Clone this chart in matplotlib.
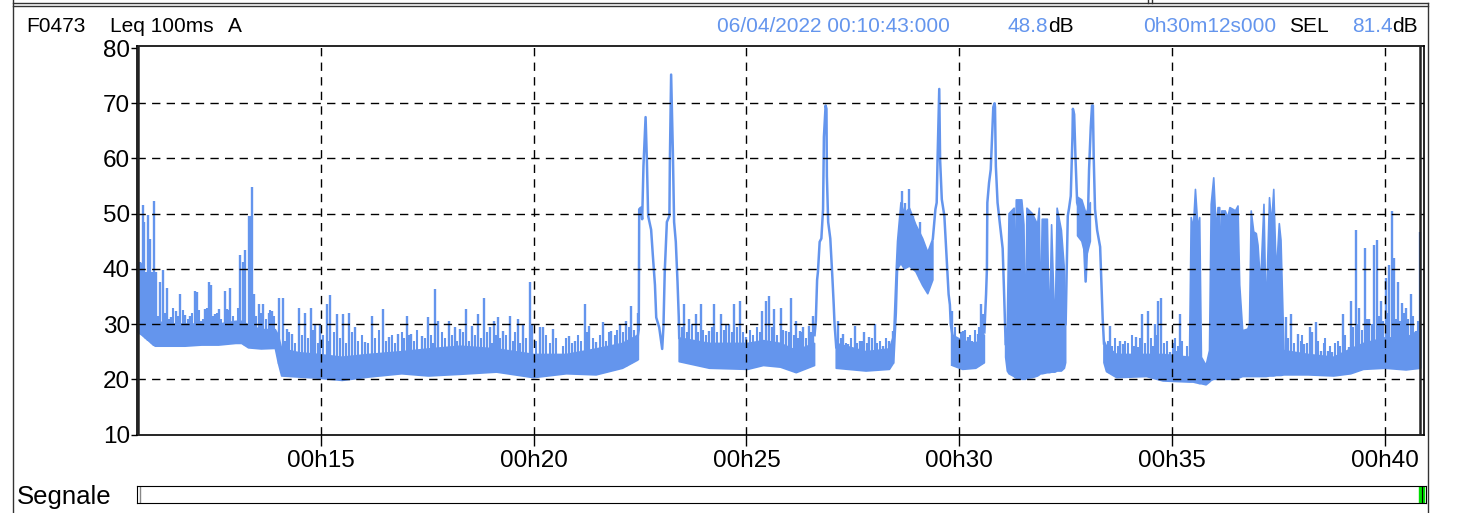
import numpy as np
import matplotlib
matplotlib.use("Agg")
import matplotlib.pyplot as plt
from matplotlib.lines import Line2D

plt.rcParams['font.family'] = ['Liberation Sans', 'DejaVu Sans']

# -----------------------------------------------------------------------------
# Data (time in minutes past 00h, level in dB(A))
# -----------------------------------------------------------------------------
nan = np.nan

# dense noise floor: lower / upper edge of the band, nan rows break the band
floor_t = [10.70, 10.80, 10.87, 10.95, 11.05, 11.11, 11.50, 11.81, 12.20, 12.60,
           13.00, 13.14, 13.30, 13.60, 13.93, 14.00, 14.08, 14.50, 14.95, 15.50,
           16.12, 16.90, 17.53, 18.27, 19.13, 20.00, 20.77, 21.47, 22.09, 22.45,
           22.90,
           23.42, 24.13, 25.03, 25.40, 25.80, 26.17, 26.60,
           26.90,
           27.11, 27.81, 28.36, 28.46, 28.52, 28.55, 28.63, 28.71, 28.83, 28.98,
           29.14, 29.26, 29.38,
           29.60,
           29.84, 30.08, 30.39, 30.59,
           30.80,
           31.09, 31.13, 31.17, 31.29, 31.31, 31.34, 31.47, 31.52, 31.56, 31.59,
           31.72, 31.84, 31.88, 31.91, 31.95, 32.07, 32.12, 32.17, 32.25, 32.30,
           32.40, 32.47, 32.50,
           32.60,
           32.78, 32.88, 32.98, 33.08,
           33.20,
           33.40, 33.46, 33.70, 34.40, 34.79, 35.41, 35.45, 35.50, 35.55, 35.61,
           35.65, 35.69, 35.80, 35.88, 35.92, 35.98, 36.04, 36.08, 36.12, 36.15,
           36.17, 36.25, 36.31, 36.36, 36.43, 36.49, 36.55, 36.59, 36.66, 36.78,
           36.82, 36.86, 36.92, 36.98, 37.02, 37.08, 37.16, 37.21, 37.29, 37.34,
           37.39, 37.45, 37.52, 37.56, 37.63, 38.20, 38.80, 39.20, 39.50, 40.00,
           40.50, 40.84]
floor_lo = [28.5, 28.0, 27.5, 27.0, 26.3, 26.0, 26.0, 26.0, 26.2, 26.2,
            26.5, 26.5, 25.7, 25.5, 25.6, 23.0, 20.6, 20.4, 20.2, 19.8,
            20.4, 21.0, 20.6, 20.9, 21.3, 20.3, 21.0, 20.8, 22.0, 23.5,
            nan,
            23.2, 22.0, 21.8, 22.5, 22.2, 21.2, 22.5,
            nan,
            22.0, 21.5, 21.8, 23.0, 32.0, 40.0, 41.0, 40.0, 40.5, 39.5,
            37.0, 35.5, 38.0,
            nan,
            22.5, 21.8, 22.0, 23.0,
            nan,
            24.0, 21.5, 21.0, 20.5, 20.3, 20.2, 20.0, 20.0, 20.0, 20.2,
            20.3, 20.6, 20.8, 21.0, 21.0, 21.2, 21.2, 21.3, 21.3, 21.5,
            21.5, 22.0, 23.0,
            nan,
            46.0, 45.0, 42.0, 45.0,
            nan,
            23.0, 21.4, 20.3, 20.5, 19.7, 19.5, 19.5, 19.5, 19.4, 19.3,
            19.2, 19.2, 19.0, 19.5, 19.8, 20.0, 20.0, 20.0, 20.0, 20.0,
            20.0, 20.0, 20.0, 20.0, 20.0, 20.0, 20.2, 20.3, 20.5, 20.5,
            20.5, 20.5, 20.5, 20.5, 20.5, 20.5, 20.5, 20.5, 20.6, 20.6,
            20.6, 20.7, 20.7, 20.7, 20.8, 20.8, 20.6, 21.0, 21.8, 22.0,
            21.7, 22.0]
floor_hi = [40.0, 41.0, 38.0, 34.0, 31.0, 30.5, 30.0, 30.0, 30.0, 30.0,
            30.5, 30.5, 29.8, 29.0, 29.0, 28.0, 25.5, 24.8, 24.5, 24.0,
            24.5, 25.0, 25.5, 26.0, 25.5, 24.5, 24.5, 25.5, 26.5, 28.0,
            nan,
            27.5, 26.5, 26.5, 27.0, 26.5, 25.2, 26.5,
            nan,
            26.5, 25.0, 25.5, 28.0, 40.0, 45.0, 52.0, 50.0, 51.0, 48.0,
            45.5, 43.0, 45.5,
            nan,
            28.0, 27.0, 26.5, 28.0,
            nan,
            27.0, 30.0, 50.0, 51.0, 30.0, 52.5, 52.5, 48.0, 26.0, 51.0,
            50.0, 48.0, 51.0, 30.0, 49.0, 49.0, 28.0, 48.0, 28.0, 51.0,
            47.0, 40.0, 30.0,
            nan,
            53.0, 52.5, 50.0, 52.0,
            nan,
            27.0, 26.0, 24.5, 24.5, 24.5, 24.0, 49.3, 47.3, 54.4, 47.3,
            49.3, 24.0, 22.5, 25.2, 51.7, 56.5, 46.7, 51.1, 51.1, 36.0,
            50.5, 50.5, 49.3, 51.1, 50.8, 50.5, 51.4, 37.1, 28.8, 29.1,
            30.0, 50.5, 46.7, 46.4, 44.3, 37.1, 51.7, 31.2, 52.9, 47.9,
            54.4, 38.9, 48.2, 45.2, 25.2, 24.5, 24.0, 25.5, 26.5, 27.5,
            27.5, 29.0]

# short peaks rising out of the floor
spike_t = [10.76, 10.81, 10.85, 10.90, 10.95, 10.99, 11.03, 11.09, 11.13, 11.23,
           11.28, 11.38, 11.48, 11.59, 11.70, 11.81, 11.93, 12.05, 12.09, 12.19,
           12.28, 12.36, 12.42, 12.52, 12.60, 12.74, 12.79, 12.87, 12.99, 13.10,
           13.16, 13.22, 13.30, 13.34, 13.39, 13.43, 13.54, 13.65, 13.77, 13.85,
           14.01, 14.10, 14.20, 14.32, 14.48, 14.63, 14.77, 14.87, 14.98, 15.14,
           15.22, 15.38, 15.53, 15.65, 15.81, 16.04, 16.20, 16.45, 16.59, 16.82,
           17.02, 17.12, 17.37, 17.51, 17.69, 17.76, 18.00, 18.16, 18.27, 18.41,
           18.54, 18.70, 18.83, 18.97, 19.06, 19.16, 19.28, 19.44, 19.63, 19.75,
           19.91, 19.97, 20.14, 20.23, 20.45, 20.84, 20.96, 21.20, 21.31, 21.47,
           21.63, 21.82, 22.02, 22.16, 22.29, 22.45, 23.54, 23.66, 23.81, 23.93,
           24.13, 24.24, 24.40, 24.59, 24.71, 24.84, 24.98, 25.37, 25.45, 25.53,
           25.65, 25.80, 25.94, 26.05, 26.17, 26.25, 26.33, 26.48, 26.56, 27.15,
           27.27, 27.38, 27.54, 27.66, 27.77, 27.89, 28.01, 28.20, 28.36, 28.44,
           28.66, 28.73, 28.83, 28.91, 29.08, 29.84, 29.98, 30.08, 30.20, 30.31,
           30.43, 30.51, 30.56, 33.54, 33.77, 33.84, 34.16, 34.20, 34.30, 34.44,
           34.59, 34.67, 34.73, 34.95, 35.10, 35.18, 37.68, 37.80, 37.95, 38.11,
           38.23, 38.30, 38.38, 38.50, 38.66, 38.77, 39.01, 39.16, 39.20, 39.32,
           39.40, 39.54, 39.63, 39.75, 39.81, 39.91, 40.02, 40.10, 40.16, 40.22,
           40.30, 40.41, 40.49, 40.61, 40.73, 40.83]
spike_db = [41.3, 51.5, 48.5, 39.5, 49.8, 45.5, 39.5, 52.3, 39.5, 37.7,
            39.8, 36.5, 31.2, 32.4, 35.5, 31.7, 31.5, 36.0, 35.8, 30.6,
            32.7, 37.6, 37.0, 31.8, 32.7, 36.0, 32.7, 36.5, 30.6, 42.6,
            41.3, 43.4, 49.6, 49.5, 54.9, 35.4, 33.7, 33.6, 32.1, 32.3,
            34.8, 34.8, 29.1, 28.2, 33.0, 32.1, 33.0, 30.0, 30.0, 33.6,
            35.2, 31.8, 31.9, 32.1, 29.4, 26.7, 31.5, 32.7, 27.6, 28.2,
            31.5, 28.2, 27.9, 31.2, 36.3, 30.6, 30.5, 29.4, 29.1, 32.7,
            29.7, 31.9, 34.8, 29.4, 30.6, 31.2, 28.8, 31.5, 30.9, 30.0,
            37.6, 30.0, 29.4, 29.4, 29.1, 27.9, 27.0, 33.6, 29.7, 26.7,
            30.3, 28.8, 30.0, 30.6, 33.3, 32.1, 33.6, 30.9, 31.8, 33.6,
            28.8, 33.6, 31.8, 30.0, 33.6, 34.2, 27.6, 32.4, 34.2, 35.1,
            32.7, 33.0, 28.8, 34.8, 30.6, 28.8, 29.4, 29.7, 31.5, 30.6,
            28.2, 26.4, 29.7, 27.0, 28.5, 27.6, 30.0, 26.1, 27.0, 28.8,
            54.1, 52.0, 54.4, 49.6, 48.5, 32.4, 27.0, 28.8, 27.6, 27.0,
            28.2, 33.6, 31.8, 29.7, 27.0, 26.4, 27.6, 25.8, 31.9, 32.3,
            30.0, 34.2, 34.8, 24.9, 25.2, 31.9, 31.2, 31.8, 28.2, 26.4,
            29.4, 28.5, 30.3, 25.2, 25.2, 25.0, 31.8, 25.8, 34.2, 47.0,
            33.0, 43.7, 30.9, 44.3, 45.2, 34.2, 38.3, 40.7, 50.5, 41.9,
            37.7, 33.9, 33.0, 35.4, 28.8, 46.7]

# small ripples on top of the floor between the bigger peaks
grass_t = [11.18, 11.33, 11.43, 11.53, 11.64, 11.75, 11.87, 11.98, 12.14, 12.24,
           12.32, 12.47, 12.56, 12.66, 12.83, 12.93, 13.05, 13.48, 13.59, 13.71,
           13.81, 13.90,
           14.15, 14.26, 14.40, 14.55, 14.70, 14.82, 14.93, 15.05, 15.18, 15.30,
           15.45, 15.59, 15.72, 15.88, 15.96, 16.10, 16.28, 16.36, 16.52, 16.66,
           16.74, 16.90, 16.96, 17.07, 17.18, 17.27, 17.44, 17.58, 17.63, 17.84,
           17.92, 18.08, 18.21, 18.34, 18.47, 18.62, 18.77, 18.90, 19.01, 19.11,
           19.22, 19.35, 19.51, 19.57, 19.69, 19.83, 20.06, 20.30, 20.38, 20.53,
           20.68, 20.76, 20.90, 21.05, 21.12, 21.26, 21.39, 21.55, 21.70, 21.76,
           21.90, 21.96, 22.09, 22.23, 22.35,
           23.48, 23.60, 23.72, 23.87, 23.99, 24.06, 24.19, 24.31, 24.47, 24.53,
           24.65, 24.77, 24.91, 25.08, 25.16, 25.24, 25.31, 25.59, 25.72, 25.87,
           26.00, 26.11, 26.21, 26.29, 26.40, 26.52,
           27.21, 27.33, 27.45, 27.60, 27.72, 27.83, 27.95, 28.07, 28.14, 28.27,
           29.91, 30.03, 30.14, 30.26, 30.37, 30.47,
           33.50, 33.60, 33.66, 33.73, 33.90, 33.97, 34.05, 34.11, 34.25, 34.36,
           34.50, 34.55, 34.63, 34.80, 34.88, 35.02, 35.06, 35.14, 35.24, 35.35,
           37.72, 37.86, 38.02, 38.06, 38.16, 38.42, 38.56, 38.60, 38.71, 38.83,
           38.90, 38.95, 39.07, 39.26, 39.36, 39.46, 39.58, 39.69, 39.86, 39.96,
           40.06, 40.27, 40.35, 40.45, 40.55, 40.66, 40.78]
grass_db = [31.5, 32.0, 31.0, 33.0, 31.5, 32.5, 31.0, 32.0, 32.5, 31.0,
            33.0, 31.5, 32.0, 31.0, 32.5, 31.5, 33.0, 31.5, 32.0, 31.0,
            32.5, 31.5,
            27.0, 28.5, 26.5, 28.0, 27.5, 29.0, 26.5, 28.0, 27.0, 28.5,
            27.5, 26.5, 28.5, 27.0, 28.0, 26.5, 27.5, 29.0, 27.0, 28.0,
            26.5, 28.5, 27.5, 28.0, 27.0, 29.0, 27.5, 28.0, 26.5, 28.5,
            27.5, 28.0, 27.0, 28.5, 27.0, 28.0, 27.5, 28.5, 26.5, 28.0,
            27.5, 28.0, 27.0, 28.5, 26.5, 27.5, 27.0, 28.0, 26.5, 27.5,
            26.0, 27.5, 26.5, 28.0, 27.0, 28.5, 27.5, 28.0, 27.0, 28.5,
            28.0, 29.0, 28.5, 29.5, 29.0,
            29.5, 28.5, 30.0, 28.5, 29.0, 28.0, 29.5, 28.5, 29.0, 30.0,
            28.5, 29.5, 28.5, 29.0, 28.0, 29.5, 28.5, 29.5, 28.0, 29.0,
            28.5, 28.0, 27.5, 28.5, 27.5, 28.5,
            27.5, 26.5, 27.5, 26.5, 27.0, 26.5, 27.5, 26.5, 27.0, 27.5,
            29.5, 28.5, 29.0, 28.0, 29.0, 29.5,
            27.0, 26.0, 27.5, 26.0, 27.0, 26.5, 28.0, 26.0, 27.5, 26.5,
            27.5, 26.0, 28.0, 26.5, 27.0, 26.5, 27.5, 26.0, 27.0, 26.0,
            27.5, 26.5, 27.0, 28.0, 26.5, 27.0, 26.5, 27.5, 26.0, 26.5,
            27.0, 26.0, 28.0, 29.5, 30.0, 29.0, 31.0, 30.0, 31.5, 30.5,
            32.0, 31.0, 30.5, 32.0, 31.0, 31.5, 30.5]

# loud pass-by events, drawn as a single trace
ev1_t = [22.45, 22.47, 22.48, 22.52, 22.55, 22.58, 22.63, 22.66, 22.69, 22.76,
         22.80, 22.85, 22.88, 22.95, 23.02, 23.05, 23.08, 23.13, 23.19, 23.20,
         23.23, 23.27, 23.30, 23.34, 23.38, 23.41, 23.42]
ev1_db = [28.0, 29.0, 50.8, 51.1, 49.0, 58.6, 67.5, 59.8, 49.6, 47.1,
          42.5, 37.1, 31.2, 29.4, 25.5, 29.6, 39.5, 48.5, 49.6, 59.2,
          75.2, 61.5, 48.5, 44.9, 37.7, 31.2, 27.5]
ev2_t = [26.60, 26.63, 26.66, 26.68, 26.72, 26.76, 26.80, 26.82, 26.86, 26.88,
         26.89, 26.92, 26.97, 27.02, 27.05, 27.07, 27.11]
ev2_db = [28.0, 30.6, 38.0, 39.5, 44.9, 45.5, 50.8, 63.9, 69.6, 69.0,
          56.8, 48.5, 45.5, 38.3, 33.6, 30.0, 25.8]
ev3_t = [29.38, 29.44, 29.47, 29.49, 29.53, 29.55, 29.59, 29.65, 29.70, 29.75,
         29.78, 29.80, 29.84]
ev3_db = [45.5, 50.8, 52.0, 59.8, 72.6, 59.8, 52.6, 49.6, 42.5, 35.4,
          33.5, 30.0, 28.0]
ev4_t = [30.59, 30.63, 30.65, 30.66, 30.70, 30.74, 30.80, 30.83, 30.84, 30.86,
         30.90, 30.95, 31.02, 31.05, 31.09]
ev4_db = [28.5, 35.4, 40.0, 52.0, 55.6, 58.0, 69.3, 70.0, 69.3, 58.6,
          52.0, 48.5, 43.7, 36.5, 26.4]
ev5_t = [32.50, 32.55, 32.58, 32.62, 32.66, 32.67, 32.70, 32.73, 32.77, 32.81,
         32.85, 32.93, 32.97, 33.01, 33.05, 33.09, 33.12, 33.14, 33.16, 33.19,
         33.24, 33.31, 33.34, 33.37, 33.40]
ev5_db = [30.0, 49.6, 51.0, 53.2, 64.0, 69.0, 68.0, 60.4, 52.0, 51.0,
          50.0, 45.0, 37.7, 45.0, 58.0, 65.7, 69.6, 69.6, 60.0, 50.8,
          47.0, 44.0, 37.5, 31.0, 26.5]

x_ticks = [15, 20, 25, 30, 35, 40]
y_ticks = [10, 20, 30, 40, 50, 60, 70, 80]

BLUE = '#6495ED'

# -----------------------------------------------------------------------------
# Figure, pixel helpers
# -----------------------------------------------------------------------------
W, H = 1460, 513
fig = plt.figure(figsize=(W / 100, H / 100), dpi=100)


def fx(x):
    return x / W


def fy(y):
    return 1 - y / H


# panel frame
frame = [((13, 3), (1428, 3)), ((1148, 0), (1148, 3)), ((1152, 0), (1152, 3)),
         ((13, 5.5), (1428, 5.5)), ((13, 0), (13, 513)), ((1428, 3), (1428, 513))]
for (x0, y0), (x1, y1) in frame:
    fig.add_artist(Line2D([fx(x0), fx(x1)], [fy(y0), fy(y1)], color='#333333', lw=1.0))

# header
hs = 15
hy = 27
renderer = fig.canvas.get_renderer()


def value_db(value, x_right):
    unit = fig.text(fx(x_right), fy(hy), 'dB', fontsize=hs, va='center', ha='right')
    bb = unit.get_window_extent(renderer)
    fig.text(bb.x0 / W, fy(hy), value, fontsize=hs, va='center', ha='right', color=BLUE)


fig.text(fx(26), fy(hy), 'F0473', fontsize=hs, va='center')
fig.text(fx(110), fy(hy), 'Leq 100ms', fontsize=hs, va='center')
fig.text(fx(228), fy(hy), 'A', fontsize=hs, va='center')
fig.text(fx(717), fy(hy), '06/04/2022 00:10:43:000', fontsize=hs, va='center', color=BLUE)
value_db('48.8', 1074)
fig.text(fx(1143), fy(hy), '0h30m12s000', fontsize=hs, va='center', color=BLUE)
fig.text(fx(1289), fy(hy), 'SEL', fontsize=hs, va='center')
value_db('81.4', 1418)

# -----------------------------------------------------------------------------
# Main time history
# -----------------------------------------------------------------------------
ax = fig.add_axes([fx(137), fy(435), fx(1424) - fx(137), (435 - 45.5) / H])

ft = np.array(floor_t)
lo = np.array(floor_lo)
hi = np.array(floor_hi)
ax.fill_between(ft, lo, hi, facecolor=BLUE, edgecolor=BLUE, lw=1.2, zorder=2)

ok = ~np.isnan(lo)
base = np.interp(spike_t, ft[ok], lo[ok])
ax.vlines(spike_t, base, spike_db, color=BLUE, lw=1.7, zorder=2)
gbase = np.interp(grass_t, ft[ok], lo[ok])
ax.vlines(grass_t, gbase, grass_db, color=BLUE, lw=1.5, zorder=2)

for et, ed in [(ev1_t, ev1_db), (ev2_t, ev2_db), (ev3_t, ev3_db),
               (ev4_t, ev4_db), (ev5_t, ev5_db)]:
    ax.plot(et, ed, color=BLUE, lw=1.8, zorder=2)

ax.set_xlim(10.68, 40.92)
ax.set_ylim(9.91, 80.47)

for v in y_ticks[1:-1]:
    ax.axhline(v, color='black', lw=1.0, dashes=(6, 4.5), zorder=3)
for v in x_ticks:
    ax.axvline(v, color='black', lw=1.0, dashes=(6, 4.5), zorder=3)

# start / end cursors
ax.axvline(10.695, color='#222222', lw=1.8, zorder=4)
ax.axvline(40.835, color='#222222', lw=1.8, zorder=4)

ax.set_xticks(x_ticks)
ax.set_xticklabels(['00h%02d' % m for m in x_ticks])
ax.set_yticks(y_ticks)
ax.set_yticklabels([str(v) for v in y_ticks])
ax.tick_params(axis='x', length=8, width=1, pad=3, labelsize=17.5)
ax.tick_params(axis='y', length=4, width=1, pad=1, labelsize=17.5)
for s in ax.spines.values():
    s.set_linewidth(1.2)

# -----------------------------------------------------------------------------
# Signal bar
# -----------------------------------------------------------------------------
fig.text(fx(17), fy(497), 'Segnale', fontsize=18.5, va='center')
sax = fig.add_axes([fx(137), fy(503), fx(1426) - fx(137), (503 - 485.5) / H])
sax.set_xlim(0, 1)
sax.set_ylim(0, 1)
sax.set_xticks([])
sax.set_yticks([])
sax.axvline(0.0025, color='#888888', lw=1)
sax.axvspan(0.9946, 0.9984, color='#00dd00')
sax.axvline(0.9966, color='black', lw=0.8)

fig.savefig('out.png', dpi=100)
